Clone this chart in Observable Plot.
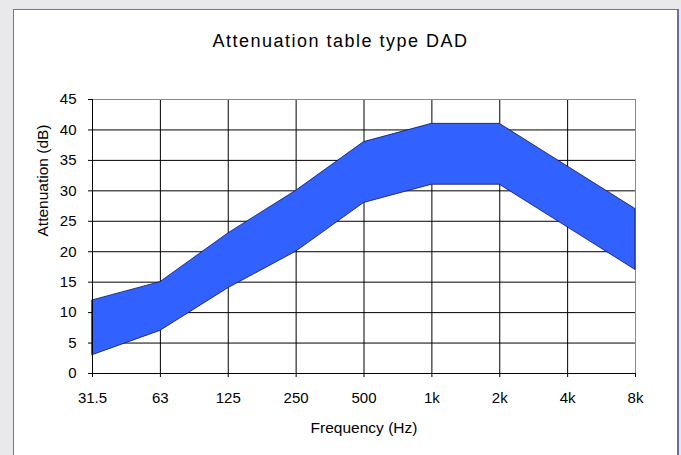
<!DOCTYPE html>
<html>
<head>
<meta charset="utf-8">
<script src="https://cdn.jsdelivr.net/npm/d3@7"></script>
<script src="https://cdn.jsdelivr.net/npm/@observablehq/plot@0.6"></script>
<style>
  html, body { margin: 0; padding: 0; }
  body { width: 681px; height: 455px; background: #e9e9ec; position: relative; overflow: hidden; font-family: "Liberation Sans", Arial, sans-serif; }
  #panel { position: absolute; left: 13px; top: 9px; width: 663px; height: 460px; background: #fff; border-left: 1px solid #7070b4; border-top: 1.5px solid #7070b4; border-right: 2px solid #6a6ab2; }
  #title { position: absolute; left: 0; width: 681px; top: 31px; text-align: center; font-size: 18px; letter-spacing: 1.5px; color: #000; }
  #chart { position: absolute; left: 0; top: 0; }
</style>
</head>
<body>
<div id="panel"></div>
<div id="title">Attenuation table type DAD</div>
<div id="chart"></div>
<script>
const frequencies = ["31.5", "63", "125", "250", "500", "1k", "2k", "4k", "8k"];
const upperValues = [12, 15, 23, 30, 38, 41, 41, 34, 27];
const lowerValues = [3, 7, 14, 20, 28, 31, 31, 24, 17];
const yTicks = [0, 5, 10, 15, 20, 25, 30, 35, 40, 45];

const rows = frequencies.map((f, i) => ({freq: f, upper: upperValues[i], lower: lowerValues[i]}));

const chart = Plot.plot({
  width: 681,
  height: 455,
  marginLeft: 92,
  marginRight: 46,
  marginTop: 99,
  marginBottom: 82,
  style: {background: "transparent", fontFamily: "'Liberation Sans', Arial, sans-serif", fontSize: "15px", color: "#000"},
  x: {type: "point", domain: frequencies, padding: 0, round: false},
  y: {domain: [0, 45]},
  marks: [
    Plot.ruleY(yTicks.filter(d => d > 0 && d < 45), {stroke: "#000", strokeWidth: 1, strokeOpacity: 1}),
    Plot.ruleX(frequencies.slice(1, -1), {y1: 0, y2: 45, stroke: "#000", strokeWidth: 1, strokeOpacity: 1}),
    Plot.frame({stroke: "#8a8a8a", strokeWidth: 1}),
    Plot.areaY(rows, {x: "freq", y1: "lower", y2: "upper", fill: "#3161ff", fillOpacity: 1, stroke: "#141450", strokeWidth: 0.8}),
    Plot.ruleY([0], {stroke: "#000"}),
    Plot.ruleX([frequencies[0]], {y1: 0, y2: 45, stroke: "#000"}),
    Plot.axisY({ticks: yTicks, tickSize: 4, tickPadding: 12, fontSize: 15, label: null}),
    Plot.axisX({tickSize: 4, tickPadding: 15, fontSize: 15, label: null}),
    Plot.text(["Attenuation (dB)"], {frameAnchor: "left", dx: -49, rotate: -90, fontSize: 15.5, fill: "#000"}),
    Plot.text(["Frequency (Hz)"], {frameAnchor: "bottom", dy: 59, fontSize: 15.5, fill: "#000"})
  ]
});
document.getElementById("chart").appendChild(chart);
</script>
</body>
</html>
